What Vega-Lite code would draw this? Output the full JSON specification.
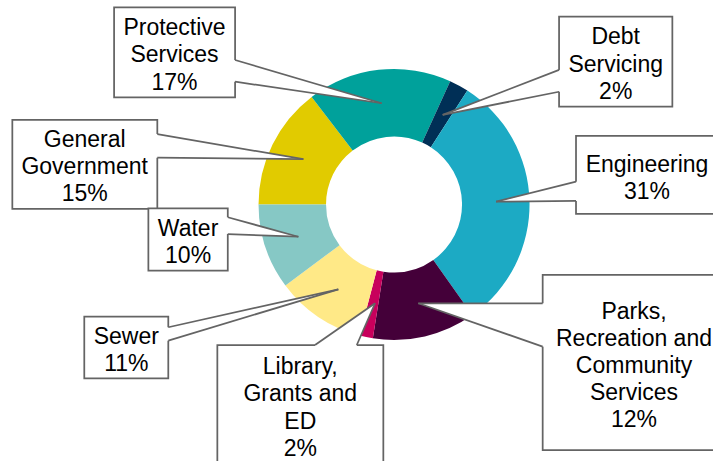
{
  "$schema": "https://vega.github.io/schema/vega-lite/v6.json",
  "width": 713,
  "height": 461,
  "padding": 0,
  "autosize": "none",
  "background": "white",
  "config": {"axis": {"disable": true}, "view": {"stroke": null}},
  "datasets": {
    "slices": [
      {"name": "General Government", "value": 14.6, "order": 1},
      {"name": "Protective Services", "value": 17.2, "order": 2},
      {"name": "Debt Servicing", "value": 2.3, "order": 3},
      {"name": "Engineering", "value": 31.1, "order": 4},
      {"name": "Parks, Recreation and Community Services", "value": 12.3, "order": 5},
      {"name": "Library, Grants and ED", "value": 1.6, "order": 6},
      {"name": "Sewer", "value": 10.7, "order": 7},
      {"name": "Water", "value": 10.2, "order": 8}
    ],
    "callouts": [
      {"id": "Protective", "label": "Protective\nServices\n17%", "x1": -206.6, "x2": -117.3, "y1": 145.5, "y2": 79.1, "tx": -162.0, "ty": 130.1, "ax": -117.3, "ay": 106.6, "bx": -117.3, "by": 90.6, "px": -9.1, "py": 74.7},
      {"id": "Debt", "label": "Debt\nServicing\n2%", "x1": 121.8, "x2": 205.4, "y1": 138.6, "y2": 72.2, "tx": 163.6, "ty": 123.3, "ax": 121.8, "ay": 99.3, "bx": 121.8, "by": 83.2, "px": 35.9, "py": 66.1},
      {"id": "Engineering", "label": "Engineering\n31%", "x1": 134.3, "x2": 239.1, "y1": 50.6, "y2": -7.0, "tx": 186.7, "ty": 29.3, "ax": 134.3, "ay": 16.8, "bx": 134.3, "by": 2.6, "px": 75.3, "py": 2.1},
      {"id": "Parks", "label": "Parks,\nRecreation and\nCommunity\nServices\n12%", "x1": 109.7, "x2": 244.3, "y1": -52.0, "y2": -181.2, "tx": 177.1, "ty": -79.0, "ax": 109.7, "ay": -72.9, "bx": 109.7, "by": -104.9, "px": 17.9, "py": -72.9},
      {"id": "GG", "label": "General\nGovernment\n15%", "x1": -281.7, "x2": -174.7, "y1": 62.4, "y2": -3.3, "tx": -228.3, "ty": 47.8, "ax": -174.7, "ay": 52.0, "bx": -174.7, "by": 34.5, "px": -66.9, "py": 33.4},
      {"id": "Water", "label": "Water\n10%", "x1": -181.3, "x2": -122.7, "y1": -2.8, "y2": -48.9, "tx": -152.0, "ty": -17.9, "ax": -122.7, "ay": -9.4, "bx": -122.7, "by": -21.8, "px": -70.6, "py": -23.8},
      {"id": "Sewer", "label": "Sewer\n11%", "x1": -228.6, "x2": -166.6, "y1": -82.8, "y2": -128.3, "tx": -197.6, "ty": -97.9, "ax": -166.6, "ay": -90.6, "bx": -166.6, "by": -100.5, "px": -41.1, "py": -62.6},
      {"id": "Library", "label": "Library,\nGrants and\nED\n2%", "x1": -130.4, "x2": -7.9, "y1": -103.7, "y2": -199.6, "tx": -69.2, "ty": -120.1, "ax": -58.3, "ay": -103.7, "bx": -27.5, "by": -103.7, "px": -14.0, "py": -72.9}
    ],
    "wedges": [
      {"id": "Protective", "o": "v", "wx": -117.3, "wy": 106.6, "wy2": 90.6},
      {"id": "Protective", "o": "v", "wx": -9.1, "wy": 74.7, "wy2": 74.7},
      {"id": "Debt", "o": "v", "wx": 121.8, "wy": 99.3, "wy2": 83.2},
      {"id": "Debt", "o": "v", "wx": 35.9, "wy": 66.1, "wy2": 66.1},
      {"id": "Engineering", "o": "v", "wx": 134.3, "wy": 16.8, "wy2": 2.6},
      {"id": "Engineering", "o": "v", "wx": 75.3, "wy": 2.1, "wy2": 2.1},
      {"id": "Parks", "o": "v", "wx": 109.7, "wy": -72.9, "wy2": -104.9},
      {"id": "Parks", "o": "v", "wx": 17.9, "wy": -72.9, "wy2": -72.9},
      {"id": "GG", "o": "v", "wx": -174.7, "wy": 52.0, "wy2": 34.5},
      {"id": "GG", "o": "v", "wx": -66.9, "wy": 33.4, "wy2": 33.4},
      {"id": "Water", "o": "v", "wx": -122.7, "wy": -9.4, "wy2": -21.8},
      {"id": "Water", "o": "v", "wx": -70.6, "wy": -23.8, "wy2": -23.8},
      {"id": "Sewer", "o": "v", "wx": -166.6, "wy": -90.6, "wy2": -100.5},
      {"id": "Sewer", "o": "v", "wx": -41.1, "wy": -62.6, "wy2": -62.6},
      {"id": "Library", "o": "h", "wy": -103.7, "wx": -58.3, "wx2": -27.5},
      {"id": "Library", "o": "h", "wy": -72.9, "wx": -14.0, "wx2": -14.0}
    ]
  },
  "layer": [
    {
      "data": {"name": "slices"},
      "mark": {"type": "arc", "outerRadius": 135.5, "innerRadius": 68},
      "encoding": {
        "x": {"datum": 0, "type": "quantitative", "scale": {"domain": [-290.8, 235.4], "nice": false, "zero": false}},
        "y": {"datum": 0, "type": "quantitative", "scale": {"domain": [-189.3, 150.9], "nice": false, "zero": false}},
        "theta": {"field": "value", "type": "quantitative", "stack": true, "scale": {"range": [-1.5708, 4.7124]}},
        "order": {"field": "order", "type": "quantitative"},
        "color": {
          "field": "name", "type": "nominal", "legend": null,
          "scale": {
            "domain": ["General Government", "Protective Services", "Debt Servicing", "Engineering", "Parks, Recreation and Community Services", "Library, Grants and ED", "Sewer", "Water"],
            "range": ["#E1CB00", "#00A19B", "#002F56", "#1CAAC4", "#440039", "#C8005C", "#FFE987", "#86C8C5"]
          }
        }
      }
    },
    {
      "data": {"name": "wedges"},
      "transform": [{"filter": "datum.o == 'v'"}],
      "mark": {"type": "area", "orient": "vertical", "fill": "white", "stroke": null, "opacity": 1},
      "encoding": {
        "x": {"field": "wx", "type": "quantitative"},
        "y": {"field": "wy", "type": "quantitative", "stack": null},
        "y2": {"field": "wy2"},
        "detail": {"field": "id", "type": "nominal"}
      }
    },
    {
      "data": {"name": "wedges"},
      "transform": [{"filter": "datum.o == 'h'"}],
      "mark": {"type": "area", "orient": "horizontal", "fill": "white", "stroke": null, "opacity": 1},
      "encoding": {
        "y": {"field": "wy", "type": "quantitative"},
        "x": {"field": "wx", "type": "quantitative", "stack": null},
        "x2": {"field": "wx2"},
        "detail": {"field": "id", "type": "nominal"}
      }
    },
    {
      "data": {"name": "callouts"},
      "mark": {"type": "rect", "fill": "white", "stroke": "#646464", "strokeWidth": 1.75},
      "encoding": {
        "x": {"field": "x1", "type": "quantitative"},
        "x2": {"field": "x2"},
        "y": {"field": "y1", "type": "quantitative"},
        "y2": {"field": "y2"}
      }
    },
    {
      "data": {"name": "callouts"},
      "mark": {"type": "rule", "stroke": "white", "strokeWidth": 3.5},
      "encoding": {
        "x": {"field": "ax", "type": "quantitative"},
        "y": {"field": "ay", "type": "quantitative"},
        "x2": {"field": "bx"},
        "y2": {"field": "by"}
      }
    },
    {
      "data": {"name": "callouts"},
      "mark": {"type": "rule", "stroke": "#646464", "strokeWidth": 1.75},
      "encoding": {
        "x": {"field": "ax", "type": "quantitative"},
        "y": {"field": "ay", "type": "quantitative"},
        "x2": {"field": "px"},
        "y2": {"field": "py"}
      }
    },
    {
      "data": {"name": "callouts"},
      "mark": {"type": "rule", "stroke": "#646464", "strokeWidth": 1.75},
      "encoding": {
        "x": {"field": "bx", "type": "quantitative"},
        "y": {"field": "by", "type": "quantitative"},
        "x2": {"field": "px"},
        "y2": {"field": "py"}
      }
    },
    {
      "data": {"name": "callouts"},
      "mark": {"type": "text", "font": "Liberation Sans", "fontSize": 23, "lineHeight": 27.2, "lineBreak": "\n", "align": "center", "baseline": "middle", "color": "#000000"},
      "encoding": {
        "x": {"field": "tx", "type": "quantitative"},
        "y": {"field": "ty", "type": "quantitative"},
        "text": {"field": "label"}
      }
    }
  ]
}
